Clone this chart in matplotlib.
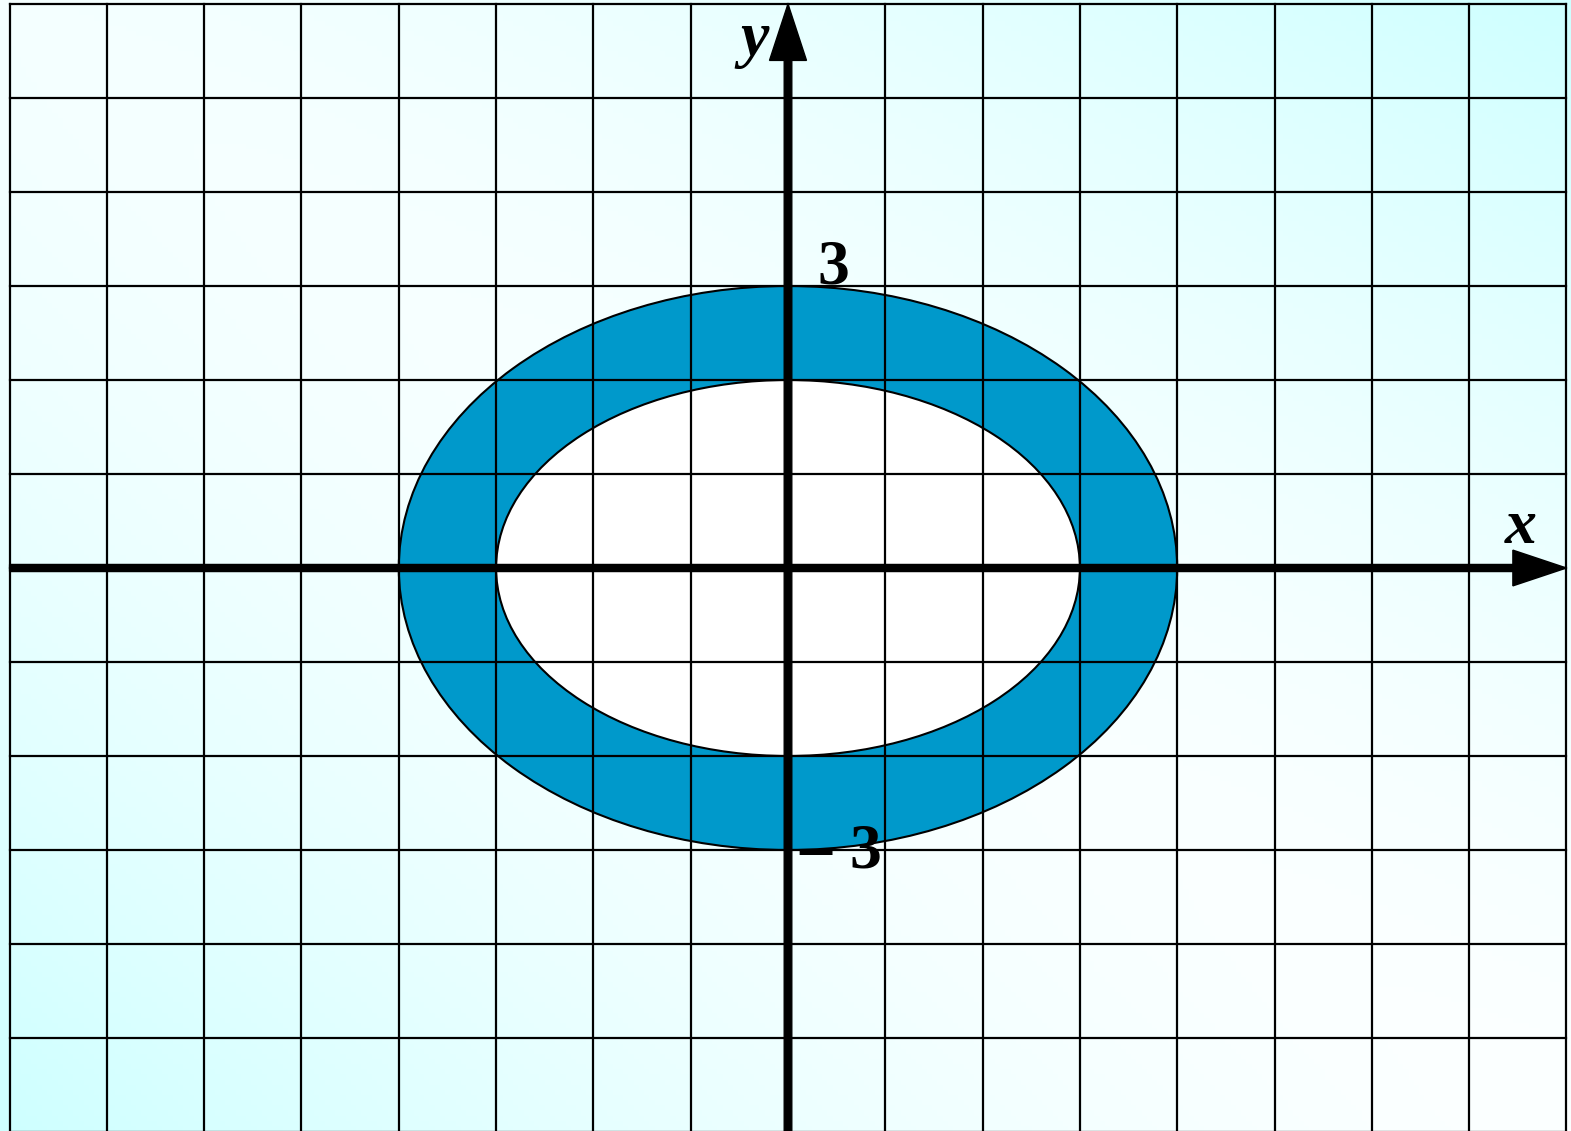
import numpy as np
import matplotlib
matplotlib.use("Agg")
from matplotlib import pyplot as plt
from matplotlib.patches import Ellipse

# ring between two ellipses: x^2/16 + y^2/9 = 1 and x^2/9 + y^2/4 = 1
outer_a, outer_b = 4, 3
inner_a, inner_b = 3, 2
grid_x = list(range(-8, 9))
grid_y = list(range(-6, 7))
tick_labels = ["3", "\u2013", "3"]

fill_color = "#0099cb"

fig = plt.figure(figsize=(15.71, 11.31), dpi=100)
ax = fig.add_axes([0, 0, 1, 1])
xmin, xmax = -788 / 97.3, (1571 - 788) / 97.3
ymin, ymax = -(1131 - 568) / 94, 568 / 94
ax.set_xlim(xmin, xmax)
ax.set_ylim(ymin, ymax)
ax.set_axis_off()

# background: pale cyan gradient, lighter along the main diagonal
u, v = np.meshgrid(np.linspace(0, 1, 300), np.linspace(0, 1, 220))
d = 3 + 8 * (1 - (u + v) / 2) + 42 * np.abs(u - v) ** 1.6
bg = np.dstack([(255 - d) / 255, np.ones_like(d), np.ones_like(d)])
ax.imshow(bg, extent=[xmin, xmax, ymin, ymax], origin="upper", aspect="auto", zorder=0)

# ring
ax.add_patch(Ellipse((0, 0), 2 * outer_a, 2 * outer_b, facecolor=fill_color,
                     edgecolor="black", lw=1.5, zorder=1))
ax.add_patch(Ellipse((0, 0), 2 * inner_a, 2 * inner_b, facecolor="white",
                     edgecolor="black", lw=1.5, zorder=2))

# grid on top of the fill, bounded by the outer lines
for gx in grid_x:
    ax.plot([gx, gx], [grid_y[0], grid_y[-1]], color="black", lw=1.6, zorder=3)
for gy in grid_y:
    ax.plot([grid_x[0], grid_x[-1]], [gy, gy], color="black", lw=1.6, zorder=3)

# axes with arrows
ax.arrow(0, ymin, 0, 6.0 - ymin, width=0.078, head_width=0.38, head_length=0.6,
         length_includes_head=True, color="black", zorder=5)
ax.arrow(grid_x[0], 0, 8.0 - grid_x[0], 0, width=0.075, head_width=0.38, head_length=0.55,
         length_includes_head=True, color="black", zorder=5)

font = dict(family="Liberation Serif", fontweight="bold", fontsize=46, zorder=6)
ax.text(-0.49, 5.46, "y", style="italic", ha="left", va="baseline", **font)
ax.text(7.37, 0.27, "x", style="italic", ha="left", va="baseline", **font)
ax.text(0.30, 3.03, tick_labels[0], ha="left", va="baseline", **font)
ax.text(0.12, -3.19, tick_labels[1], ha="left", va="baseline", **font)
ax.text(0.63, -3.19, tick_labels[2], ha="left", va="baseline", **font)

fig.savefig("out.png", dpi=100)
